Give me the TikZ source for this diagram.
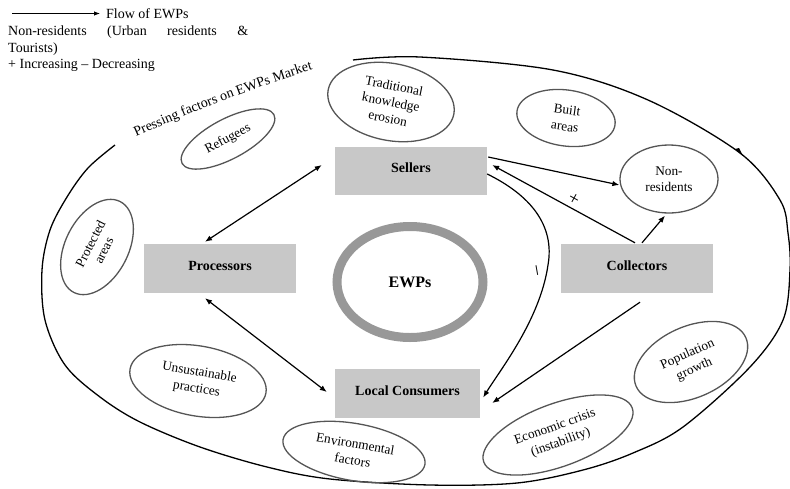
\documentclass[tikz,border=0pt]{standalone}
\usepackage{fontspec}
\setmainfont{Liberation Serif}
\usetikzlibrary{shapes.geometric, arrows.meta, decorations.text}
\definecolor{boxgray}{RGB}{200,200,200}
\definecolor{ellgray}{RGB}{85,85,85}
\definecolor{ringgray}{RGB}{152,152,152}
\tikzset{
  factor/.style={ellipse, draw=ellgray, line width=1.3pt, align=center, inner sep=0pt,
    font=\fontsize{13.3}{16.5}\selectfont},
  actor/.style={rectangle, fill=boxgray, minimum width=152pt, minimum height=49pt,
    inner sep=0pt, text height=10pt, text depth=7pt, font=\bfseries\fontsize{14}{16}\selectfont},
  flowarrow/.style={-{Latex[length=7pt,width=5.5pt]}, line width=1.2pt},
  bothways/.style={{Latex[length=7pt,width=5.5pt]}-{Latex[length=7pt,width=5.5pt]}, line width=1.2pt},
  legend/.style={anchor=base west, inner sep=0pt, font=\fontsize{14}{16}\selectfont},
  sign/.style={inner sep=0pt, font=\fontsize{19}{20}\selectfont},
  outerline/.style={line width=1.3pt, black}
}
\begin{document}
\begin{tikzpicture}[x=1pt,y=-1pt]
\useasboundingbox (0,0) rectangle (790,488);

% legend
\coordinate (la) at (12,13.5);
\node[legend] (flow) at (106,18.5) {Flow of EWPs};
\draw[-{Latex[length=6pt,width=4.5pt]}, line width=0.9pt, shorten >=6pt] (la) -- (la -| flow.west);
\node[legend] (lg1) at (8,35) {\makebox[240pt][s]{Non-residents (Urban residents \&}};
\node[legend] (lg2) at (8,52) {Tourists)};
\node[legend] (lg3) at (8,68.5) {+ Increasing – Decreasing};

% outer boundary
\draw[outerline] plot[smooth, tension=0.55] coordinates {
 (115,145) (88,168) (67,197) (50,230) (42,270) (45,320) (65,365) (100,397)
 (140,422) (200,447) (267,467) (330,479) (430,485) (517,483) (583,470)
 (633,453) (683,427) (750,367) (783,320) (790,270) (788,233) (780,200)
 (740,153) (648,100) (553,70) (420,57) (353,60)};
\fill (735,149) -- (743,156) -- (739,148) -- cycle;

\path[decorate, decoration={text along path,
  text={|\fontsize{14}{16}\selectfont|Pressing factors on EWPs Market}, text align=center}]
  (131,139) .. controls (191,112) and (258,86) .. (318,68);

% factors
\node[factor, rotate=-11, minimum width=128pt, minimum height=77pt] (T) at (391,102) {Traditional\\knowledge\\erosion};
\node[factor, rotate=-8, minimum width=99pt, minimum height=56pt] (B) at (566,118) {Built\\areas};
\node[factor, minimum width=98pt, minimum height=68pt] (N) at (669,179) {Non-\\residents};
\node[factor, rotate=28, minimum width=104pt, minimum height=40pt] (R) at (228,139) {Refugees};
\node[factor, rotate=63, minimum width=102pt, minimum height=63pt, font=\fontsize{13.3}{15}\selectfont] (Pa) at (97,247) {Protected\\areas};
\node[factor, rotate=-10, minimum width=138pt, minimum height=70pt] (U) at (198,381) {Unsustainable\\practices};
\node[factor, rotate=-10, minimum width=144pt, minimum height=57pt] (En) at (354,452) {Environmental\\factors};
\node[factor, rotate=20, minimum width=158pt, minimum height=63pt] (Ec) at (558,435) {Economic crisis\\(instability)};
\node[factor, rotate=24, minimum width=120pt, minimum height=71pt] (Po) at (691,362) {Population\\growth};

% actors
\node[actor, minimum height=48pt] (S) at (411,171) {Sellers};
\node[actor] (P) at (220,268.5) {Processors};
\node[actor] (C) at (637,268.5) {Collectors};
\node[actor, minimum width=145pt] (L) at (407.5,393.5) {Local Consumers};
\node[ellipse, draw=ringgray, line width=9pt, minimum width=146pt, minimum height=111pt,
  inner sep=0pt, font=\bfseries\fontsize{16}{18}\selectfont] (E) at (410,282) {EWPs};

% flows
\draw[bothways] ([shift={(-13,-6)}]S.west) -- ([shift={(-15,-2)}]P.north);
\draw[bothways] ([shift={(-15,5)}]P.south) -- ([shift={(-8,-1.5)}]L.west);
\draw[flowarrow] ([shift={(1,-14)}]S.east) -- ([shift={(0,6)}]N.west);
\draw[flowarrow] ([shift={(-2,-1)}]C.north) -- node[sign, pos=0.43, yshift=9.5pt, rotate=-29] {+} ([shift={(5,-6)}]S.east);
\draw[flowarrow] ([shift={(5,-1)}]C.north) -- ([shift={(-4,2)}]N.south);
\draw[flowarrow] ([shift={(0,3)}]S.east) .. controls (530,195) and (555,225) ..
  node[sign, pos=1, xshift=-9pt, yshift=-5pt, rotate=100] {–} (548,265)
  .. controls (540,320) and (500,370) .. ([shift={(3,4)}]L.east);
\draw[flowarrow] ([shift={(3,9)}]C.south) -- ([shift={(12,9.5)}]L.east);
\end{tikzpicture}
\end{document}
